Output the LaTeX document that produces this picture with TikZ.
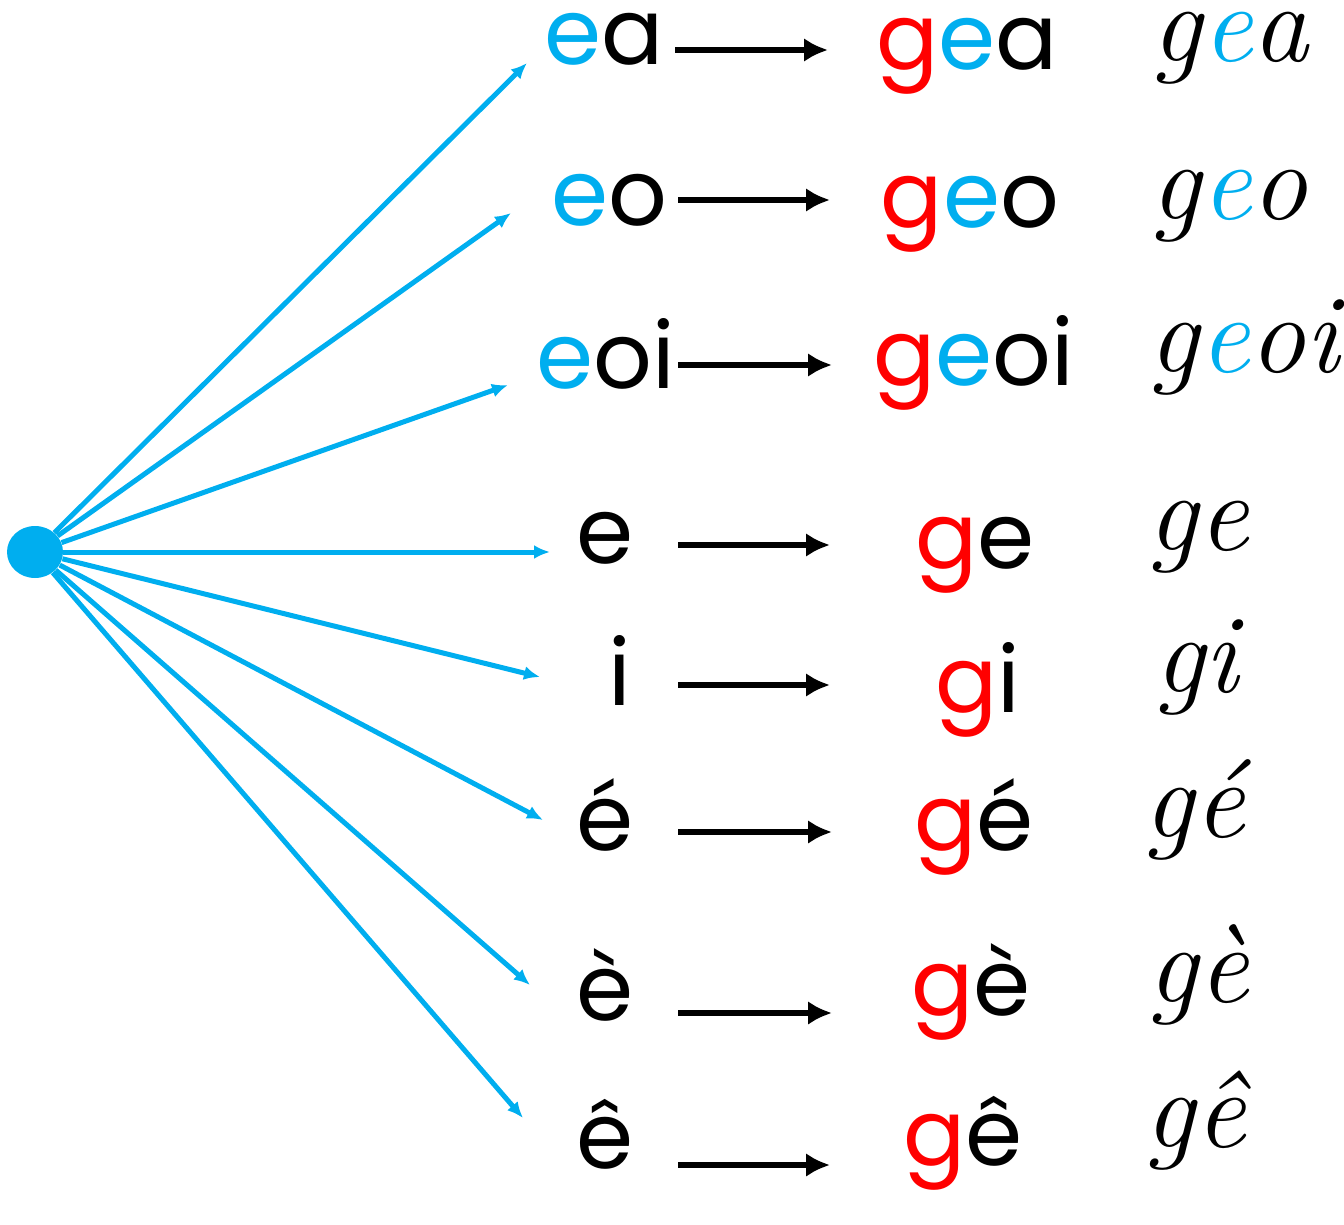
\documentclass[tikz,border=0pt]{standalone}
\usepackage{fontspec}
\newfontfamily\geofont{Poppins}
\usepackage{tikz}
\usetikzlibrary{arrows.meta,shapes}
\definecolor{skyblue}{HTML}{00AEEF}
\definecolor{gred}{HTML}{FF0000}
\newcommand{\bl}[1]{\textcolor{skyblue}{#1}}
\newcommand{\rd}[1]{\textcolor{gred}{#1}}

\begin{document}
\begin{tikzpicture}[x=0.5pt, y=-0.5pt,
    syl/.style={inner sep=0pt, anchor=base, font=\geofont\fontsize{46}{50}\selectfont},
    hand/.style={inner sep=0pt, anchor=base, text height=1.2ex, font=\itshape\fontsize{56}{60}\selectfont},
    line/.style={draw, -{Latex[length=12pt, width=12pt]}, line width=3pt},
    ray/.style={draw, -{Latex[length=8pt, width=7pt]}, skyblue, line width=2.5pt}]

    \useasboundingbox (0,0) rectangle (1344,1225);

    \node [ellipse, fill=skyblue, minimum width=28pt, minimum height=26pt, inner sep=0pt] (src) at (35,552) {};

    % vowels
    \node [syl] (v1) at (604,65) {\bl{e}a};
    \node [syl] (v2) at (609,226) {\bl{e}o};
    \node [syl] (v3) at (606,388) {\bl{e}oi};
    \node [syl] (v4) at (605,563) {e};
    \node [syl] (v5) at (620,705) {i};
    \node [syl] (v6) at (605,850) {é};
    \node [syl] (v7) at (605,1020) {è};
    \node [syl] (v8) at (605,1168) {ê};

    % syllables with g
    \node [syl] (g1) at (967,70) {\rd{g}\bl{e}a};
    \node [syl] (g2) at (970,228) {\rd{g}\bl{e}o};
    \node [syl] (g3) at (974,385) {\rd{g}\bl{e}oi};
    \node [syl] (g4) at (975,568) {\rd{g}e};
    \node [syl] (g5) at (978,712) {\rd{g}i};
    \node [syl] (g6) at (974,850) {\rd{g}é};
    \node [syl] (g7) at (971,1015) {\rd{g}è};
    \node [syl] (g8) at (963,1165) {\rd{g}ê};

    % handwritten
    \node [hand] (h1) at (1230,62) {g\bl{e}a};
    \node [hand] (h2) at (1229,220) {g\bl{e}o};
    \node [hand] (h3) at (1244,372) {g\bl{e}oi};
    \node [hand] (h4) at (1198,550) {ge};
    \node [hand] (h5) at (1196,692) {gi};
    \node [hand] (h6) at (1194,837) {gé};
    \node [hand] (h7) at (1198,1002) {gè};
    \node [hand] (h8) at (1195,1147) {gê};

    % ray ends
    \coordinate (e1) at (527,63);
    \coordinate (e2) at (511,213);
    \coordinate (e3) at (508,385);
    \coordinate (e4) at (550,552);
    \coordinate (e5) at (540,677);
    \coordinate (e6) at (543,820);
    \coordinate (e7) at (530,985);
    \coordinate (e8) at (523,1118);

    \path [ray] (src) -- (e1);
    \path [ray] (src) -- (e2);
    \path [ray] (src) -- (e3);
    \path [ray] (src) -- (e4);
    \path [ray] (src) -- (e5);
    \path [ray] (src) -- (e6);
    \path [ray] (src) -- (e7);
    \path [ray] (src) -- (e8);

    % arrow ends
    \coordinate (a1) at (675,50);   \coordinate (b1) at (828,50);
    \coordinate (a2) at (678,200);  \coordinate (b2) at (830,200);
    \coordinate (a3) at (678,365);  \coordinate (b3) at (832,365);
    \coordinate (a4) at (678,545);  \coordinate (b4) at (830,545);
    \coordinate (a5) at (678,685);  \coordinate (b5) at (830,685);
    \coordinate (a6) at (678,832);  \coordinate (b6) at (832,832);
    \coordinate (a7) at (678,1013); \coordinate (b7) at (832,1013);
    \coordinate (a8) at (678,1165); \coordinate (b8) at (830,1165);

    \path [line] (a1) -- (b1);
    \path [line] (a2) -- (b2);
    \path [line] (a3) -- (b3);
    \path [line] (a4) -- (b4);
    \path [line] (a5) -- (b5);
    \path [line] (a6) -- (b6);
    \path [line] (a7) -- (b7);
    \path [line] (a8) -- (b8);

\end{tikzpicture}
\end{document}
